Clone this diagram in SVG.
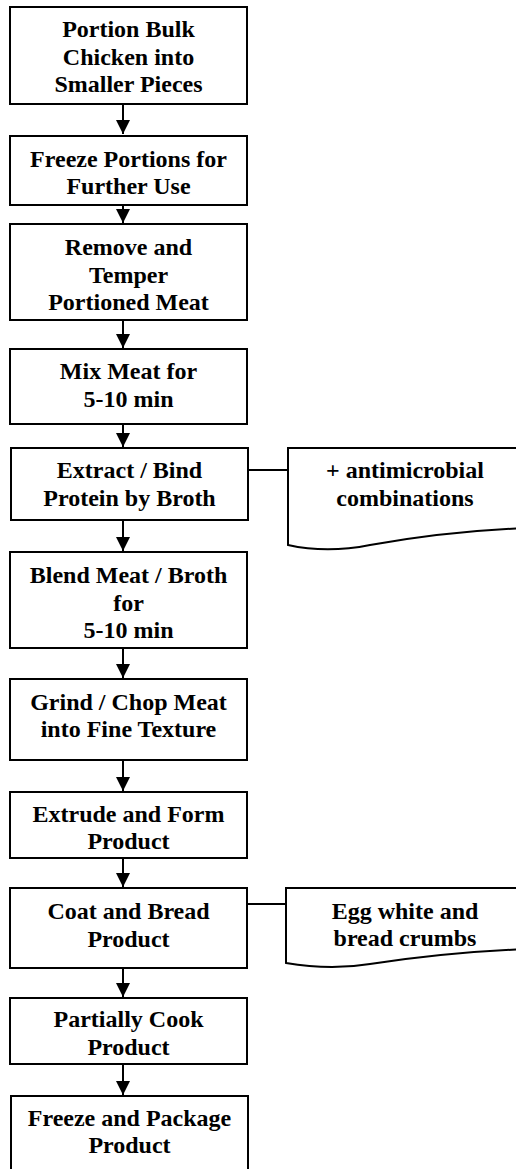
<svg xmlns="http://www.w3.org/2000/svg" width="516" height="1169" viewBox="0 0 516 1169">
<style>
.box{fill:#fff;stroke:#000;stroke-width:2}
.t{font-family:"Liberation Serif","Times New Roman",serif;font-weight:bold;font-size:24px;text-anchor:middle;fill:#000}
.ln{stroke:#000;stroke-width:2;fill:none}
</style>
<defs>
<marker id="ah" markerUnits="userSpaceOnUse" markerWidth="16" markerHeight="16" viewBox="0 0 16 16" refX="15" refY="8" orient="auto">
<path d="M1,1 L15,8 L1,15 Z" fill="#000"/>
</marker>
</defs>
<rect width="516" height="1169" fill="#fff"/>
<g id="connectors">
<line class="ln" x1="123" y1="104" x2="123" y2="134" marker-end="url(#ah)"/>
<line class="ln" x1="123" y1="205" x2="123" y2="223" marker-end="url(#ah)"/>
<line class="ln" x1="123" y1="320" x2="123" y2="348" marker-end="url(#ah)"/>
<line class="ln" x1="123" y1="424" x2="123" y2="447" marker-end="url(#ah)"/>
<line class="ln" x1="123" y1="520" x2="123" y2="551" marker-end="url(#ah)"/>
<line class="ln" x1="123" y1="648" x2="123" y2="678" marker-end="url(#ah)"/>
<line class="ln" x1="123" y1="760" x2="123" y2="791" marker-end="url(#ah)"/>
<line class="ln" x1="123" y1="858" x2="123" y2="887" marker-end="url(#ah)"/>
<line class="ln" x1="123" y1="968" x2="123" y2="997" marker-end="url(#ah)"/>
<line class="ln" x1="123" y1="1064" x2="123" y2="1095" marker-end="url(#ah)"/>
<line class="ln" x1="248" y1="470" x2="288" y2="470"/>
<line class="ln" x1="247" y1="904" x2="286" y2="904"/>
</g>
<g id="n1"><rect class="box" x="10" y="7" width="237" height="97"/>
<text class="t" x="128.5" y="37">Portion Bulk</text><text class="t" x="128.5" y="64.5">Chicken into</text><text class="t" x="128.5" y="92">Smaller Pieces</text></g>
<g id="n2"><rect class="box" x="10" y="136" width="237" height="69"/>
<text class="t" x="128.5" y="167">Freeze Portions for</text><text class="t" x="128.5" y="194">Further Use</text></g>
<g id="n3"><rect class="box" x="10" y="224" width="237" height="96"/>
<text class="t" x="128.5" y="255">Remove and</text><text class="t" x="128.5" y="282.5">Temper</text><text class="t" x="128.5" y="310">Portioned Meat</text></g>
<g id="n4"><rect class="box" x="10" y="349" width="237" height="75"/>
<text class="t" x="128.5" y="379">Mix Meat for</text><text class="t" x="128.5" y="407">5-10 min</text></g>
<g id="n5"><rect class="box" x="11" y="448" width="237" height="72"/>
<text class="t" x="129.5" y="478">Extract / Bind</text><text class="t" x="129.5" y="506">Protein by Broth</text></g>
<g id="d1"><path class="box" d="M288,448 H530 V528 C470,530 410,538 370,545 C340,551 315,551 288,545 Z"/>
<text class="t" x="405" y="478">+ antimicrobial</text><text class="t" x="405" y="506">combinations</text></g>
<g id="n6"><rect class="box" x="10" y="552" width="237" height="96"/>
<text class="t" x="128.5" y="583">Blend Meat / Broth</text><text class="t" x="128.5" y="611">for</text><text class="t" x="128.5" y="638">5-10 min</text></g>
<g id="n7"><rect class="box" x="10" y="679" width="237" height="81"/>
<text class="t" x="128.5" y="710">Grind / Chop Meat</text><text class="t" x="128.5" y="737">into Fine Texture</text></g>
<g id="n8"><rect class="box" x="10" y="792" width="237" height="66"/>
<text class="t" x="128.5" y="822">Extrude and Form</text><text class="t" x="128.5" y="849">Product</text></g>
<g id="n9"><rect class="box" x="10" y="888" width="237" height="80"/>
<text class="t" x="128.5" y="919">Coat and Bread</text><text class="t" x="128.5" y="947">Product</text></g>
<g id="d2"><path class="box" d="M286,888 H530 V949 C470,951 410,958 370,964 C340,969 315,968 286,963 Z"/>
<text class="t" x="405" y="919">Egg white and</text><text class="t" x="405" y="946">bread crumbs</text></g>
<g id="n10"><rect class="box" x="10" y="998" width="237" height="66"/>
<text class="t" x="128.5" y="1027">Partially Cook</text><text class="t" x="128.5" y="1055">Product</text></g>
<g id="n11"><rect class="box" x="11" y="1096" width="237" height="90"/>
<text class="t" x="129.5" y="1126">Freeze and Package</text><text class="t" x="129.5" y="1153">Product</text></g>
</svg>
